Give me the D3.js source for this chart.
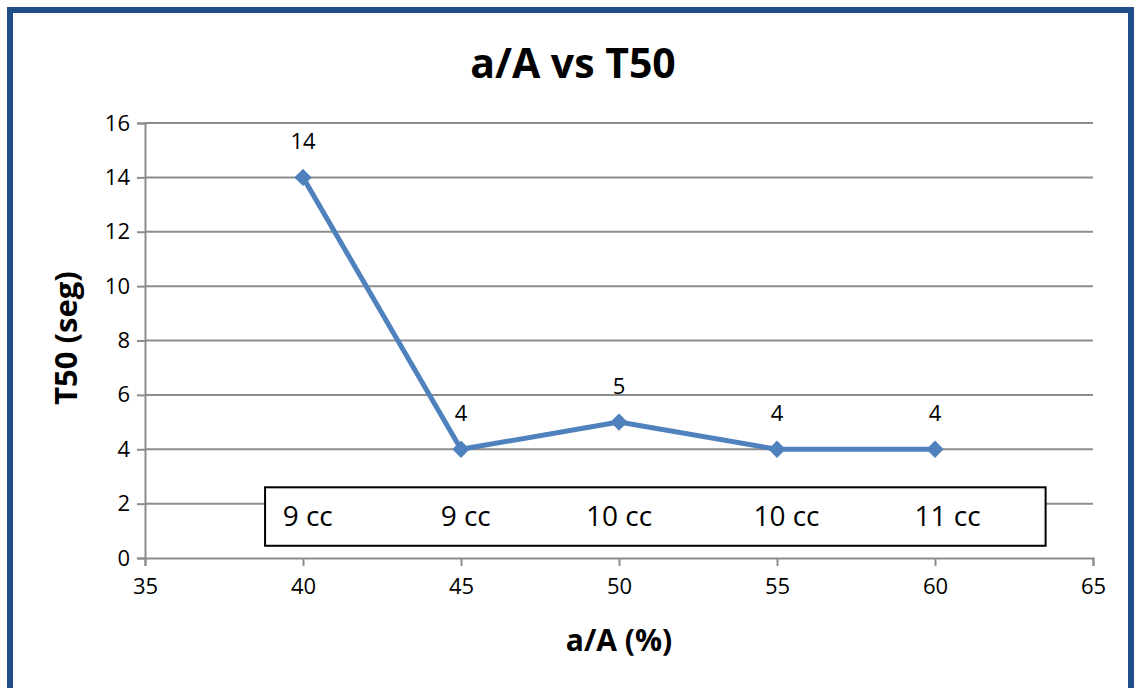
<!DOCTYPE html>
<html>
<head>
<meta charset="utf-8">
<script src="https://cdn.jsdelivr.net/npm/d3@7"></script>
<style>
  html, body { margin: 0; padding: 0; background: #ffffff; }
  svg { display: block; font-family: "Open Sans", sans-serif; }
</style>
</head>
<body>
<svg id="chart" width="1134" height="688"></svg>
<script>
// a/A ratio (%) against T50 time (seconds)
const ratios = [40, 45, 50, 55, 60];
const t50 = [14, 4, 5, 4, 4];
const volumes = ["9 cc", "9 cc", "10 cc", "10 cc", "11 cc"];
const xTicks = [35, 40, 45, 50, 55, 60, 65];
const yTicks = [0, 2, 4, 6, 8, 10, 12, 14, 16];

const svg = d3.select("#chart");
const W = 1134, H = 688;
const FONT = "'Open Sans', sans-serif";

// chart frame
svg.append("rect").attr("x", 10).attr("y", 10).attr("width", W - 13).attr("height", H)
  .attr("fill", "#fff").attr("stroke", "#1F4E89").attr("stroke-width", 6);
svg.append("line").attr("x1", 1132.5).attr("x2", 1132.5).attr("y1", 10).attr("y2", H)
  .attr("stroke", "#1F4E89").attr("stroke-width", 2);

const x = d3.scaleLinear().domain([35, 65]).range([145, 1093]);
const y = d3.scaleLinear().domain([0, 16]).range([558, 123]);

// horizontal gridlines
svg.append("g").selectAll("line").data(yTicks.slice(1)).join("line")
  .attr("x1", x(35)).attr("x2", x(65))
  .attr("y1", d => y(d)).attr("y2", d => y(d))
  .attr("stroke", "#8c8c8c").attr("stroke-width", 2);

// y axis
const yAxis = svg.append("g").attr("transform", `translate(${x(35)},0)`)
  .call(d3.axisLeft(y).tickValues(yTicks).tickSize(8).tickPadding(7));
// x axis
const xAxis = svg.append("g").attr("transform", `translate(0,${y(0)})`)
  .call(d3.axisBottom(x).tickValues(xTicks).tickSize(8).tickPadding(12));
[yAxis, xAxis].forEach(g => {
  g.select(".domain").attr("stroke", "#8c8c8c").attr("stroke-width", 2);
  g.selectAll(".tick line").attr("stroke", "#8c8c8c").attr("stroke-width", 2);
  g.selectAll(".tick text").attr("font-size", 22).attr("fill", "#000")
    .attr("font-family", FONT);
});

// volume annotation box
const boxG = svg.append("g");
boxG.append("rect")
  .attr("x", x(38.8)).attr("y", y(2.6))
  .attr("width", x(63.5) - x(38.8)).attr("height", y(0.45) - y(2.6))
  .attr("fill", "#fff").attr("stroke", "#000").attr("stroke-width", 2);
const volOffset = [0.15, 0.15, 0, 0.3, 0.4];
boxG.selectAll("text").data(volumes).join("text")
  .attr("x", (d, i) => x(ratios[i] + volOffset[i]))
  .attr("y", y(1.45))
  .attr("text-anchor", "middle").attr("dominant-baseline", "middle")
  .attr("font-size", 28).attr("fill", "#000")
  .text(d => d);

// series line
const pts = ratios.map((r, i) => [r, t50[i]]);
svg.append("path").datum(pts)
  .attr("fill", "none").attr("stroke", "#4F81BD").attr("stroke-width", 5)
  .attr("stroke-linejoin", "round")
  .attr("d", d3.line().x(d => x(d[0])).y(d => y(d[1])));

// diamond markers
svg.append("g").selectAll("path").data(pts).join("path")
  .attr("transform", d => `translate(${x(d[0])},${y(d[1])})`)
  .attr("d", d3.symbol().type(d3.symbolDiamond2).size(190))
  .attr("fill", "#4F81BD");

// data labels
svg.append("g").selectAll("text").data(pts).join("text")
  .attr("x", d => x(d[0])).attr("y", d => y(d[1]) - 28)
  .attr("text-anchor", "middle").attr("font-size", 22).attr("fill", "#000")
  .text(d => d[1]);

// title and axis titles
svg.append("text").attr("x", 573).attr("y", 78).attr("text-anchor", "middle")
  .attr("font-size", 41).attr("font-weight", "bold").attr("fill", "#000")
  .text("a/A vs T50");
svg.append("text").attr("x", 619).attr("y", 651).attr("text-anchor", "middle")
  .attr("font-size", 30).attr("font-weight", "bold").attr("fill", "#000")
  .text("a/A (%)");
svg.append("text").attr("transform", `translate(77,338) rotate(-90)`)
  .attr("text-anchor", "middle")
  .attr("font-size", 31).attr("font-weight", "bold").attr("fill", "#000")
  .text("T50 (seg)");
</script>
</body>
</html>
